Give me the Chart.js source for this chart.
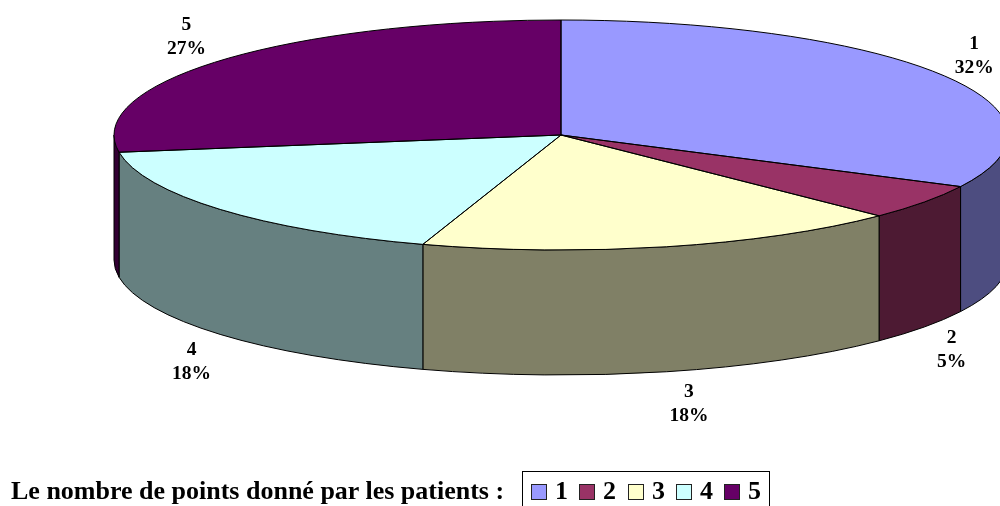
<!DOCTYPE html>
<html>
<head>
<meta charset="utf-8">
<script src="https://cdn.jsdelivr.net/npm/chart.js@4"></script>
<style>
  html, body { margin: 0; background: #fff; overflow: hidden; }
  #wrap { position: relative; width: 1000px; height: 506px; overflow: hidden; }
  #pie { position: absolute; left: 0; top: 0; }
  #legendTitle { position: absolute; left: 11px; top: 476px; font: bold 26px/30px "Liberation Serif"; white-space: nowrap; }
  #legendBox { position: absolute; left: 522px; top: 471px; width: 248px; height: 45px; border: 1px solid #000; box-sizing: border-box; font: bold 26px/30px "Liberation Serif"; }
  #legendBox span { position: absolute; top: 4px; padding-left: 24px; white-space: nowrap; }
  #legendBox i { position: absolute; left: 0; top: 8px; width: 16px; height: 16px; border: 1px solid #222; box-sizing: border-box; }
</style>
</head>
<body>
<div id="wrap">
  <canvas id="pie" width="1000" height="506"></canvas>
  <div id="legendTitle"></div>
  <div id="legendBox"></div>
</div>
<script>
const categories = ["1", "2", "3", "4", "5"];
const values = [32.4, 5, 17.6, 17.6, 27.4];
const topColors = ["#9999FF", "#993366", "#FFFFCC", "#CCFFFF", "#660066"];
const sideColors = ["#4D4D80", "#4D1A33", "#808066", "#668080", "#330033"];
const legendTitle = "Le nombre de points donné par les patients :";

const squash = 115 / 447;
const depth = 125;
// hand tweaks so the labels sit where the reference has them
const labelNudge = [[3, 0], [-1, 3], [14, -2], [-2, 5], [-9, 0]];

const pie3d = {
  id: "pie3d",
  beforeDatasetsDraw(chart) {
    const ctx = chart.ctx;
    ctx.save();
    chart.getDatasetMeta(0).data.forEach((arc, i) => {
      const { x, y, startAngle, endAngle, outerRadius: r } = arc.getProps(["x", "y", "startAngle", "endAngle", "outerRadius"]);
      const a0 = Math.max(startAngle, 0), a1 = Math.min(endAngle, Math.PI);
      if (a1 <= a0) return;
      ctx.beginPath();
      ctx.ellipse(x, y, r, r * squash, 0, a0, a1);
      ctx.ellipse(x, y + depth, r, r * squash, 0, a1, a0, true);
      ctx.closePath();
      ctx.fillStyle = sideColors[i];
      ctx.fill();
      ctx.strokeStyle = "#000";
      ctx.lineWidth = 1;
      ctx.stroke();
    });
    ctx.restore();
    // flatten the pie into an ellipse while the arcs are drawn
    const c = chart.getDatasetMeta(0).data[0];
    ctx.save();
    ctx.translate(0, c.y);
    ctx.scale(1, squash);
    ctx.translate(0, -c.y);
  },
  afterDatasetsDraw(chart) {
    const ctx = chart.ctx;
    ctx.restore();
    ctx.save();
    ctx.strokeStyle = "#000";
    ctx.lineWidth = 1;
    chart.getDatasetMeta(0).data.forEach((arc, i) => {
      const { x, y, startAngle, endAngle, outerRadius: r } = arc.getProps(["x", "y", "startAngle", "endAngle", "outerRadius"]);
      ctx.beginPath();
      ctx.moveTo(x, y);
      ctx.ellipse(x, y, r, r * squash, 0, startAngle, endAngle);
      ctx.closePath();
      ctx.stroke();

      const mid = (startAngle + endAngle) / 2;
      const s = Math.sin(mid);
      const lx = x + (r + 35) * Math.cos(mid) + labelNudge[i][0];
      const ly = y + (r * squash + 35) * s + (s > 0 ? depth : 0) + labelNudge[i][1];
      ctx.fillStyle = "#000";
      ctx.font = 'bold 19.5px "Liberation Serif"';
      ctx.textAlign = "center";
      ctx.textBaseline = "middle";
      ctx.fillText(categories[i], lx, ly - 12);
      ctx.fillText(Math.round(values[i]) + "%", lx, ly + 12);
    });
    ctx.restore();
  }
};

new Chart(document.getElementById("pie"), {
  type: "pie",
  data: {
    labels: categories,
    datasets: [{ data: values, backgroundColor: topColors, borderWidth: 0, clip: false }]
  },
  options: {
    responsive: false,
    animation: false,
    radius: 447,
    layout: { padding: { left: 122, bottom: 236 } },
    events: [],
    plugins: { legend: { display: false }, tooltip: { enabled: false } }
  },
  plugins: [pie3d]
});

document.getElementById("legendTitle").textContent = legendTitle;
const swatchLeft = [8, 56, 105, 153, 201];
document.getElementById("legendBox").innerHTML = categories.map((c, i) =>
  `<span style="left:${swatchLeft[i]}px"><i style="background:${topColors[i]}"></i>${c}</span>`).join("");
</script>
</body>
</html>
